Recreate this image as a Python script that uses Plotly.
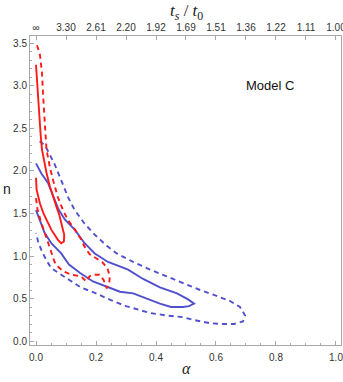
import plotly.graph_objects as go

# Contour traces (alpha, n)
red_solid_alpha = [0, 0.002, 0.013, 0.025, 0.036, 0.051, 0.062, 0.073, 0.084, 0.093, 0.094, 0.09, 0.086,
                   0.078, 0.07, 0.057, 0.046, 0.035, 0.025, 0.02, 0.015, 0.012, 0.008, 0.004, 0]
red_solid_n = [1.92, 1.78, 1.62, 1.5, 1.42, 1.31, 1.25, 1.19, 1.15, 1.17, 1.25, 1.31, 1.39,
               1.48, 1.56, 1.69, 1.82, 1.98, 2.15, 2.25, 2.45, 2.6, 2.87, 3.1, 3.25]

red_dash_alpha = [0, 0.005, 0.015, 0.028, 0.036, 0.045, 0.053, 0.062, 0.075, 0.09, 0.118, 0.15, 0.168,
                  0.178, 0.19, 0.212, 0.225, 0.236, 0.244, 0.246, 0.238, 0.22, 0.198, 0.179, 0.162,
                  0.148, 0.13, 0.107, 0.09, 0.073, 0.057, 0.046, 0.035, 0.029, 0.024, 0.02, 0.013, 0]
red_dash_n = [1.68, 1.55, 1.42, 1.28, 1.19, 1.1, 1.02, 0.93, 0.87, 0.82, 0.78, 0.76, 0.7,
              0.76, 0.78, 0.78, 0.72, 0.62, 0.68, 0.76, 0.86, 0.93, 0.98, 1.02, 1.11,
              1.21, 1.31, 1.42, 1.54, 1.69, 1.89, 2.05, 2.25, 2.55, 2.87, 3.15, 3.37, 3.52]

blue_solid_alpha = [0, 0.018, 0.04, 0.057, 0.075, 0.096, 0.129, 0.162, 0.196, 0.24, 0.284, 0.307, 0.357,
                    0.413, 0.47, 0.507, 0.527, 0.51, 0.49, 0.45, 0.413, 0.369, 0.324, 0.28, 0.236,
                    0.19, 0.147, 0.11, 0.084, 0.051, 0.029, 0.012, 0]
blue_solid_n = [2.09, 1.97, 1.86, 1.7, 1.55, 1.43, 1.31, 1.15, 1.03, 0.93, 0.87, 0.84, 0.73,
                0.63, 0.56, 0.49, 0.44, 0.41, 0.4, 0.4, 0.44, 0.5, 0.56, 0.58, 0.64,
                0.7, 0.8, 0.9, 1.03, 1.15, 1.27, 1.42, 1.54]

blue_dash_alpha = [0.012, 0.03, 0.045, 0.062, 0.084, 0.107, 0.129, 0.162, 0.196, 0.236, 0.269, 0.324,
                   0.38, 0.436, 0.49, 0.547, 0.602, 0.647, 0.68, 0.697, 0.69, 0.66, 0.62, 0.58, 0.523,
                   0.49, 0.436, 0.38, 0.3, 0.25, 0.2, 0.15, 0.11, 0.075, 0.05, 0.035, 0.02, 0.007, 0]
blue_dash_n = [2.35, 2.3, 2.2, 2.08, 1.89, 1.69, 1.54, 1.38, 1.25, 1.12, 1.03, 0.93,
               0.84, 0.76, 0.68, 0.6, 0.53, 0.47, 0.4, 0.3, 0.23, 0.2, 0.2, 0.21, 0.25,
               0.28, 0.3, 0.33, 0.41, 0.48, 0.56, 0.63, 0.72, 0.8, 0.86, 0.95, 1.05, 1.17, 1.27]

top_tick_vals = [0, 0.1, 0.2, 0.3, 0.4, 0.5, 0.6, 0.7, 0.8, 0.9, 1.0]
top_tick_text = ["∞", "3.30", "2.61", "2.20", "1.92", "1.69", "1.51", "1.36", "1.22", "1.11", "1.00"]

RED = "#ff1a1a"
BLUE = "#5050cc"

W, H = 343, 382
L, R, T, B = 30, 2, 36, 37
pw, ph = W - L - R, H - T - B

fig = go.Figure()
fig.add_trace(go.Scatter(x=blue_dash_alpha, y=blue_dash_n, mode="lines",
                         line=dict(color=BLUE, width=1.9, dash="5px,4px"), showlegend=False))
fig.add_trace(go.Scatter(x=blue_solid_alpha, y=blue_solid_n, mode="lines",
                         line=dict(color=BLUE, width=1.9), showlegend=False))
fig.add_trace(go.Scatter(x=red_dash_alpha, y=red_dash_n, mode="lines",
                         line=dict(color=RED, width=1.9, dash="5px,4px"), showlegend=False))
fig.add_trace(go.Scatter(x=red_solid_alpha, y=red_solid_n, mode="lines",
                         line=dict(color=RED, width=1.9), showlegend=False))
# invisible trace to activate the top axis
fig.add_trace(go.Scatter(x=[0, 1], y=[0, 0], xaxis="x2", mode="markers",
                         marker=dict(opacity=0), showlegend=False, hoverinfo="skip"))

FRAME = "#a8a8a8"
TICKFONT = dict(family="Liberation Sans, Arial, sans-serif", size=10, color="#333")


def ann(text, px, py, font):
    return dict(text=text, xref="paper", yref="paper",
                x=(px - L) / pw, y=(H - B - py) / ph,
                xanchor="center", yanchor="middle", showarrow=False, font=font)


fig.update_layout(
    width=W, height=H,
    margin=dict(l=L, r=R, t=T, b=B, autoexpand=False),
    paper_bgcolor="white", plot_bgcolor="white",
    xaxis=dict(range=[-0.02, 1.0167], showgrid=False, zeroline=False, automargin=False,
               showline=True, linecolor=FRAME, linewidth=1, ticklabeloverflow="allow",
               ticks="inside", ticklen=4, tickcolor=FRAME, ticklabelstandoff=3,
               tickvals=[0, 0.2, 0.4, 0.6, 0.8, 1.0], ticktext=["0.0", "0.2", "0.4", "0.6", "0.8", "1.0"],
               minor=dict(tickvals=[i * 0.05 for i in range(21)], ticks="inside", ticklen=2, tickcolor=FRAME),
               tickfont=TICKFONT),
    xaxis2=dict(range=[-0.02, 1.0167], overlaying="x", side="top", showgrid=False, zeroline=False,
                automargin=False, ticklabeloverflow="allow",
                showline=True, linecolor=FRAME, linewidth=1,
                ticks="inside", ticklen=4, tickcolor=FRAME,
                tickvals=top_tick_vals, ticktext=top_tick_text, tickfont=TICKFONT),
    yaxis=dict(range=[-0.047, 3.588], showgrid=False, zeroline=False, automargin=False,
               showline=True, linecolor=FRAME, linewidth=1, mirror=True, ticklabeloverflow="allow",
               ticks="inside", ticklen=4, tickcolor=FRAME,
               tickvals=[0, 0.5, 1.0, 1.5, 2.0, 2.5, 3.0, 3.5],
               ticktext=["0.0", "0.5", "1.0", "1.5", "2.0", "2.5", "3.0", "3.5"],
               minor=dict(tickvals=[i * 0.1 for i in range(36)], ticks="inside", ticklen=2, tickcolor=FRAME),
               tickfont=TICKFONT),
    annotations=[
        ann("Model C", 270, 85, dict(family="Liberation Sans, Arial, sans-serif", size=13, color="#111")),
        ann("<i>t<sub>s</sub></i> / <i>t</i><sub>0</sub>", 186, 12,
            dict(family="Liberation Serif, Times New Roman, serif", size=17, color="#222")),
        ann("<i>α</i>", 186, 368, dict(family="Liberation Serif, Times New Roman, serif", size=16, color="#222")),
        ann("n", 7, 189, dict(family="Liberation Sans, Arial, sans-serif", size=14, color="#222")),
    ],
)

fig.write_html("out.html", config={"displayModeBar": False},
               post_script="document.body.style.margin='0';document.body.style.padding='0';"
                           "document.body.style.overflow='hidden';")
